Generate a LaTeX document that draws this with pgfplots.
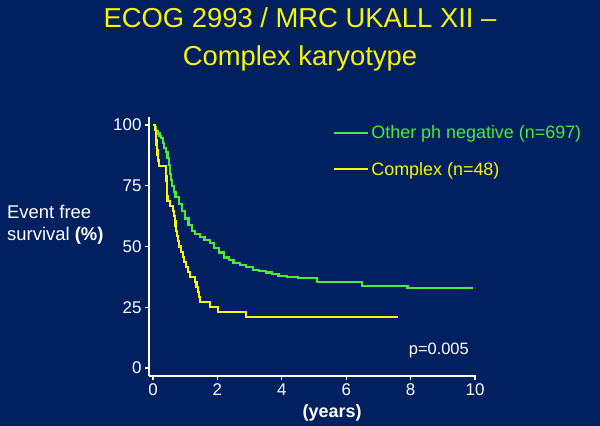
\documentclass[border=0pt]{standalone}
\usepackage{pgfplots}
\pgfplotsset{compat=1.18}
\usepackage{fontspec}
\setmainfont{Liberation Sans}
\definecolor{navy}{HTML}{002060}
\definecolor{kmgreen}{RGB}{70,235,60}
\definecolor{kmyellow}{RGB}{250,245,0}

\begin{document}
\begin{tikzpicture}
  \path[fill=navy, use as bounding box] (0,0) rectangle (600bp,-426bp);

  % title
  \node[anchor=base, text=kmyellow, font=\fontsize{27.5}{30}\selectfont] at (300bp,-27bp) {ECOG 2993 / MRC UKALL XII --};
  \node[anchor=base, text=kmyellow, font=\fontsize{27.5}{30}\selectfont] at (300bp,-65bp) {Complex karyotype};

  % y label
  \node[anchor=base west, text=white, font=\fontsize{18.5}{20}\selectfont, inner sep=0] at (7bp,-218bp) {Event free};
  \node[anchor=base west, text=white, font=\fontsize{18.5}{20}\selectfont, inner sep=0] at (7bp,-240bp) {survival \textbf{(\%)}};

  \begin{axis}[
      at={(149bp,-376bp)}, anchor=south west,
      scale only axis,
      width=327bp, height=259bp,
      xmin=-0.124, xmax=10.03,
      ymin=-3.3, ymax=103.3,
      axis lines*=left,
      axis line style={white, line width=1.3pt},
      every tick/.style={white, line width=1.1pt},
      tick align=outside,
      major tick length=4bp,
      xtick={0,2,4,6,8,10},
      ytick={0,25,50,75,100},
      ticklabel style={text=white, font=\fontsize{17}{17}\selectfont},
      /pgf/number format/assume math mode=true,
      xlabel={\textbf{(years)}},
      xlabel style={text=white, font=\fontsize{18}{18}\selectfont, at={(axis description cs:0.56,0)}, anchor=center, yshift=-37bp},
      legend image code/.code={\draw[#1] (0bp,0bp) -- (34bp,0bp);},
      legend style={draw=none, fill=none, at={(axis description cs:0.5627,0.975)}, anchor=north west,
        font=\fontsize{18}{18}\selectfont, row sep=18bp, inner sep=0pt},
      legend cell align=left,
    ]
    \addplot[const plot, color=kmgreen, line width=2.2pt] coordinates {
      (0,100) (0.05,99) (0.1,97.5) (0.15,96.5) (0.2,95.5) (0.25,94.5) (0.3,92.5) (0.35,90.5)
      (0.4,88.8) (0.45,86.5) (0.5,83.5) (0.54,80) (0.57,77.5) (0.6,75) (0.64,72.5) (0.7,70.5) (0.8,67.5)
      (0.9,64.5) (1.0,61.5) (1.1,59) (1.2,56.5) (1.3,55) (1.45,54) (1.6,52.8)
      (1.77,51.5) (1.9,49.5) (2.05,47.5) (2.2,45.5) (2.35,44.5) (2.5,43.2)
      (2.7,42.5) (2.9,41.5) (3.1,40.3) (3.3,39.8) (3.5,39.3) (3.7,38.6) (3.9,38)
      (4.15,37.5) (4.5,37.2) (5.1,35.4) (6.5,33.7) (7.9,33) (9.95,33)
    };
    \addlegendentry{\textcolor{kmgreen}{Other ph negative (n=697)}}
    \addplot[const plot, color=kmyellow, line width=2.1pt] coordinates {
      (0,100) (0.05,97.9) (0.08,95.8) (0.1,93.8) (0.11,91.7) (0.12,89.6)
      (0.14,87.5) (0.16,85.4) (0.2,83.3) (0.4,81.2) (0.41,79.2) (0.42,77.1)
      (0.425,75) (0.43,72.9) (0.44,70.8) (0.45,68.8) (0.53,66.7) (0.63,64.6)
      (0.65,62.5) (0.68,60.4) (0.7,58.3) (0.72,56.2) (0.75,54.2) (0.78,52.1)
      (0.82,50) (0.88,47.9) (0.92,45.8) (0.97,43.8) (1.02,41.7) (1.08,39.6)
      (1.15,37.5) (1.3,35.4) (1.35,33.3) (1.4,31.2) (1.43,29.2) (1.47,27.1)
      (1.77,25.0) (2.02,22.9) (2.9,20.8) (7.6,20.8)
    };
    \addlegendentry{\textcolor{kmyellow}{Complex (n=48)}}
    \node[anchor=base west, text=white, font=\fontsize{16.5}{16.5}\selectfont, inner sep=0]
      at (axis cs:7.94,5.5) {p=0.005};
  \end{axis}
\end{tikzpicture}
\end{document}
